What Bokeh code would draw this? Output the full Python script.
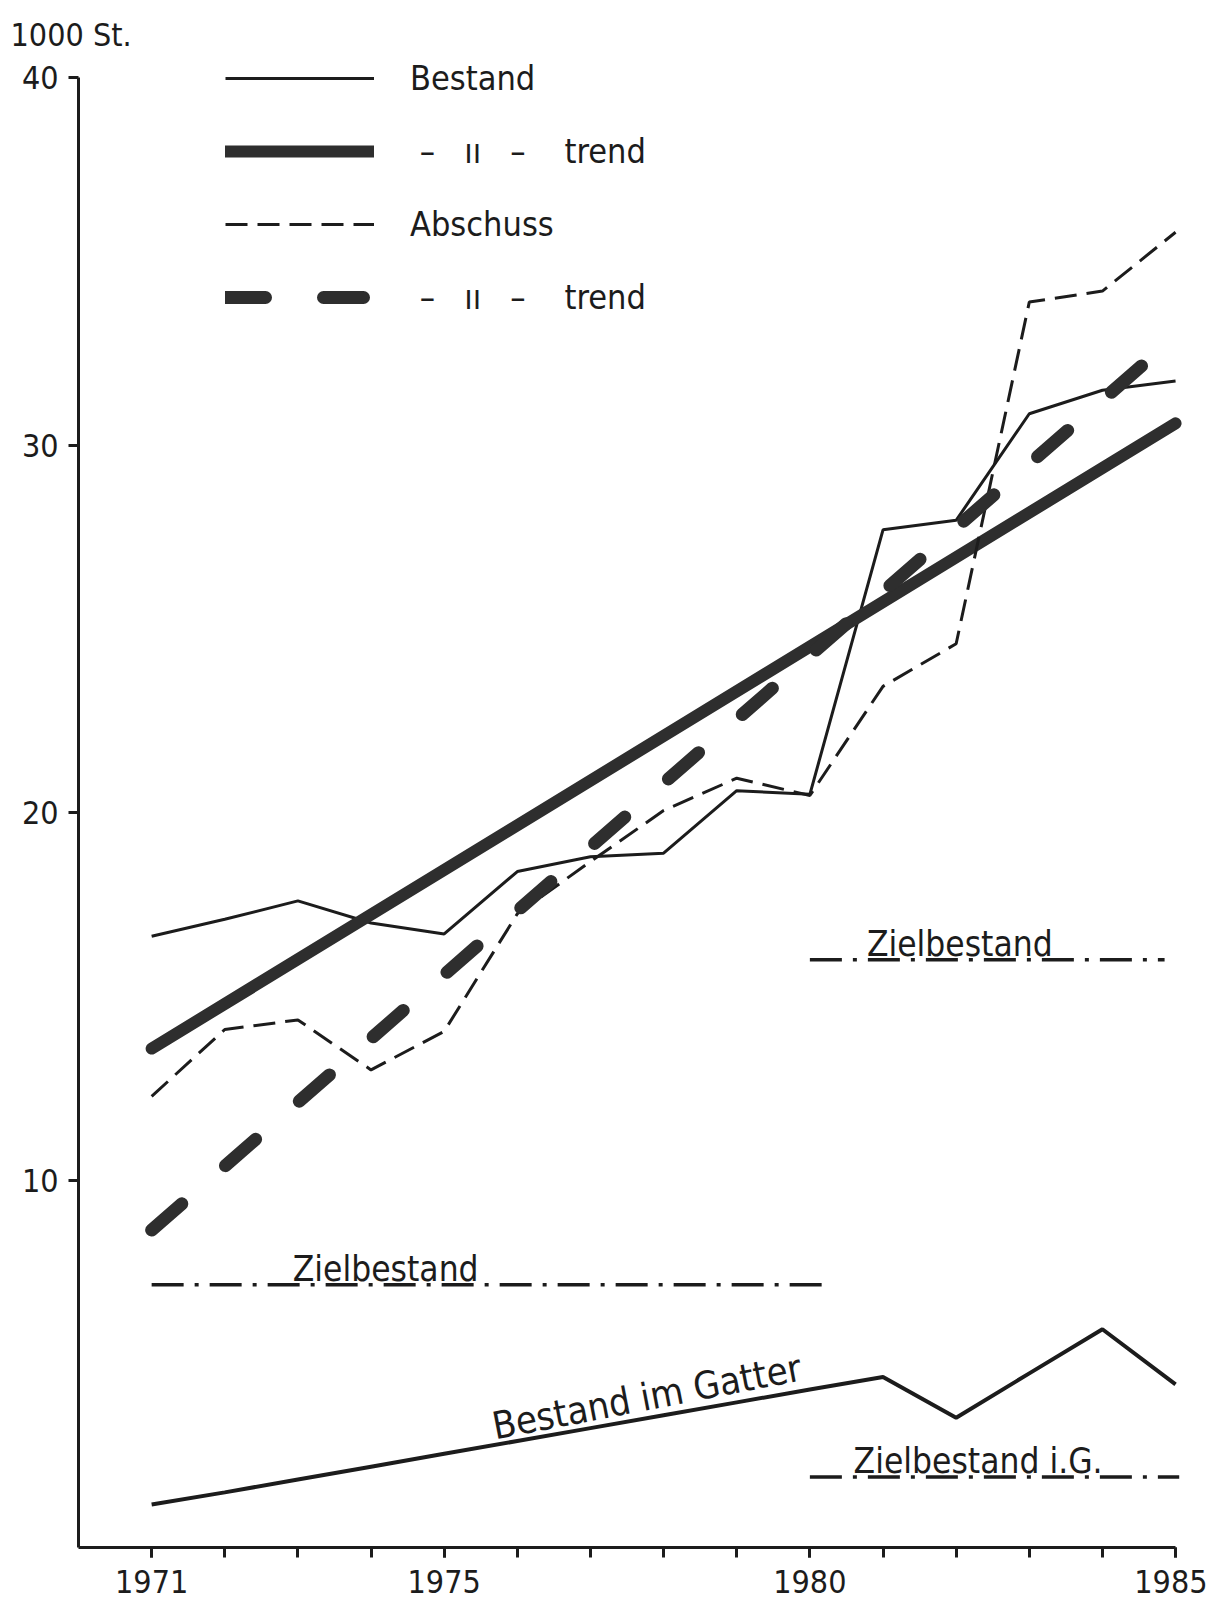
from bokeh.plotting import figure
from bokeh.models import Legend, LegendItem, Label, FixedTicker, Range1d, ColumnDataSource
from bokeh.embed import file_html
from bokeh.resources import INLINE

# ---- data ----
years = list(range(1971, 1986))
bestand = [16.64, 17.1, 17.6, 17.0, 16.7, 18.4, 18.8, 18.9, 20.6, 20.5, 27.7, 27.96, 30.86, 31.5, 31.75]
abschuss = [12.28, 14.1, 14.36, 13.0, 14.05, 17.25, 18.67, 20.06, 20.94, 20.47, 23.44, 24.6, 33.9, 34.2, 35.8]
gatter = [1.17, 1.5, 1.85, 2.2, 2.55, 2.9, 3.25, 3.6, 3.95, 4.3, 4.64, 3.53, 4.74, 5.94, 4.44]
trend_years = [1971, 1985]
bestand_trend = [13.58, 30.6]
abschuss_trend = [8.64, 32.97]
ziel_start = [1971.0, 1980.0, 1980.0]
ziel_end = [1980.3, 1984.85, 1985.05]
ziel_value = [7.15, 16.0, 1.92]
ziel_labels = ["Zielbestand", "Zielbestand", "Zielbestand i.G."]
ziel_label_x = [1974.2, 1982.05, 1982.3]
x_major = [1971, 1975, 1980, 1985]
y_major = [10, 20, 30, 40]

FONT = "DejaVu Sans Condensed"
INK = "#1c1c1c"

p = figure(frame_width=1119, frame_height=1492, min_border_left=78, min_border_top=55,
           min_border_right=10, min_border_bottom=58,
           x_range=Range1d(1970, 1985.3), y_range=Range1d(0, 40.612),
           output_backend="svg", toolbar_location=None)
p.background_fill_color = "white"
p.border_fill_color = "white"
p.outline_line_color = None
p.xgrid.visible = False
p.ygrid.visible = False

p.title.text = "1000 St."
p.title.align = "left"
p.title.offset = -68
p.title.standoff = 4
p.title.text_font = FONT
p.title.text_font_size = "32px"
p.title.text_font_style = "normal"
p.title.text_color = INK

r_best = p.line(years, bestand, line_width=3, line_color=INK)
r_best_tr = p.line(trend_years, bestand_trend, line_width=12, line_color="#2e2e2e", line_cap="round")
r_absch = p.line(years, abschuss, line_width=3, line_color=INK, line_dash="22 10")
r_absch_tr = p.line(trend_years, abschuss_trend, line_width=13, line_color="#2e2e2e",
                    line_dash="40 58", line_cap="round")
p.line(years, gatter, line_width=4, line_color=INK)

zsrc = ColumnDataSource(dict(x0=ziel_start, x1=ziel_end, y=ziel_value))
p.segment(x0="x0", y0="y", x1="x1", y1="y", source=zsrc, line_width=3.5,
          line_color=INK, line_dash="32 11 4 11")

for lx, ly, txt in zip(ziel_label_x, ziel_value, ziel_labels):
    p.add_layout(Label(x=lx, y=ly, text=txt, text_align="center", text_baseline="bottom",
                       y_offset=-4, text_font=FONT, text_font_size="35px", text_color=INK))

p.add_layout(Label(x=1975.72, y=gatter[4] + 0.15, text="Bestand im Gatter", angle=0.19,
                   text_align="left", text_baseline="bottom",
                   text_font=FONT, text_font_size="38px", text_color=INK))

ditto = "\u00a0\u2013\u00a0\u00a0\u00a0ıı\u00a0\u00a0\u00a0\u2013\u00a0\u00a0\u00a0\u00a0trend"
legend = Legend(items=[
    LegendItem(label="Bestand", renderers=[r_best]),
    LegendItem(label=ditto, renderers=[r_best_tr]),
    LegendItem(label="Abschuss", renderers=[r_absch]),
    LegendItem(label=ditto, renderers=[r_absch_tr]),
], location=(147, 1228), orientation="vertical")
legend.background_fill_alpha = 0
legend.border_line_color = None
legend.padding = 0
legend.margin = 0
legend.glyph_width = 149
legend.glyph_height = 44
legend.label_height = 44
legend.spacing = 29
legend.label_standoff = 36
legend.label_text_font = FONT
legend.label_text_font_size = "34px"
legend.label_text_color = INK
p.add_layout(legend)

for ax in (p.xaxis[0], p.yaxis[0]):
    ax.axis_line_width = 3
    ax.axis_line_color = INK
    ax.major_tick_line_width = 3
    ax.major_tick_line_color = INK
    ax.minor_tick_line_width = 3
    ax.minor_tick_line_color = INK
    ax.major_tick_in = 0
    ax.major_tick_out = 10
    ax.minor_tick_in = 0
    ax.major_label_text_font = FONT
    ax.major_label_text_font_size = "32px"
    ax.major_label_text_color = INK

p.xaxis.bounds = (1970, 1985)
p.xaxis.ticker = FixedTicker(ticks=x_major, minor_ticks=years)
p.xaxis.minor_tick_out = 10
p.xaxis.major_label_standoff = 12
p.yaxis.bounds = (0, 40)
p.yaxis.ticker = FixedTicker(ticks=y_major, minor_ticks=[])
p.yaxis.minor_tick_out = 0
p.yaxis.major_label_standoff = 10

open("out.html", "w").write(file_html(p, INLINE))
